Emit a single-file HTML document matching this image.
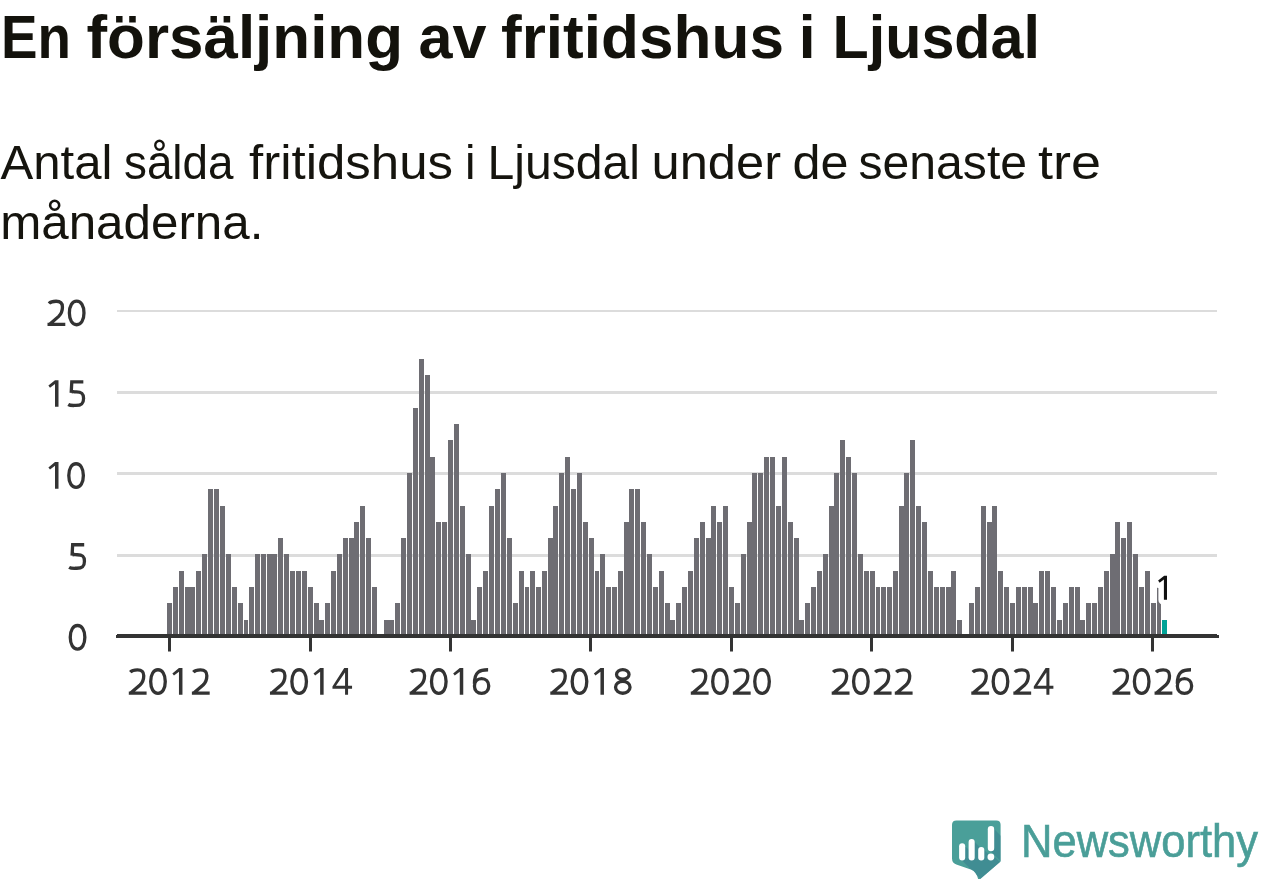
<!DOCTYPE html>
<html><head><meta charset="utf-8">
<style>
html,body{margin:0;padding:0;background:#fff;}
body{width:1262px;height:879px;overflow:hidden;position:relative;}
svg{position:absolute;left:0;top:0;will-change:transform;}
text{font-family:"Liberation Sans",sans-serif;}
.t{font-weight:bold;fill:#13120c;}
.s{fill:#15140e;}
.yl,.xl{fill:#333333;font-size:38px;}
.logo{fill:#4a9e98;font-size:45.5px;stroke:#4a9e98;stroke-width:0.6px;}
</style></head><body>
<svg width="1262" height="879" viewBox="0 0 1262 879">
<text x="1.00" y="57.8" class="t" font-size="60.5" textLength="70.00" lengthAdjust="spacingAndGlyphs">En</text>
<text x="86.50" y="57.8" class="t" font-size="60.5" textLength="316.50" lengthAdjust="spacingAndGlyphs">försäljning</text>
<text x="418.50" y="57.8" class="t" font-size="60.5" textLength="68.00" lengthAdjust="spacingAndGlyphs">av</text>
<text x="501.00" y="57.8" class="t" font-size="60.5" textLength="283.00" lengthAdjust="spacingAndGlyphs">fritidshus</text>
<text x="798.65" y="57.8" class="t" font-size="60.5">i</text>
<text x="832.50" y="57.8" class="t" font-size="60.5" textLength="207.50" lengthAdjust="spacingAndGlyphs">Ljusdal</text>
<text x="0.50" y="179.2" class="s" font-size="47.3" textLength="112.00" lengthAdjust="spacingAndGlyphs">Antal</text>
<text x="124.00" y="179.2" class="s" font-size="47.3" textLength="109.50" lengthAdjust="spacingAndGlyphs">sålda</text>
<text x="249.00" y="179.2" class="s" font-size="47.3" textLength="204.00" lengthAdjust="spacingAndGlyphs">fritidshus</text>
<text x="465.05" y="179.2" class="s" font-size="47.3">i</text>
<text x="487.50" y="179.2" class="s" font-size="47.3" textLength="152.50" lengthAdjust="spacingAndGlyphs">Ljusdal</text>
<text x="651.50" y="179.2" class="s" font-size="47.3" textLength="129.50" lengthAdjust="spacingAndGlyphs">under</text>
<text x="792.50" y="179.2" class="s" font-size="47.3" textLength="56.00" lengthAdjust="spacingAndGlyphs">de</text>
<text x="858.50" y="179.2" class="s" font-size="47.3" textLength="168.50" lengthAdjust="spacingAndGlyphs">senaste</text>
<text x="1038.00" y="179.2" class="s" font-size="47.3" textLength="63.00" lengthAdjust="spacingAndGlyphs">tre</text>
<text x="0.20" y="239.3" class="s" font-size="47.3" textLength="263.20" lengthAdjust="spacingAndGlyphs">månaderna.</text>
<rect x="117" y="310" width="1100" height="2" fill="#dcdcdc"/>
<rect x="117" y="391" width="1100" height="3" fill="#dcdcdc"/>
<rect x="117" y="472" width="1100" height="3" fill="#dcdcdc"/>
<rect x="117" y="554" width="1100" height="3" fill="#dcdcdc"/>
<path transform="translate(47.50 326.10)" d="M1.45 -22.6 C3.2 -24.5 5.6 -24.85 8.6 -24.85 C12.9 -24.85 14.95 -22.9 14.95 -19.0 C14.95 -15.6 14.6 -13.0 11.2 -9.7 L1.9 -1.6 M0 -1.65 L17.8 -1.65" fill="none" stroke="#333333" stroke-width="3.3"/>
<path transform="translate(68.53 326.10)" d="M8.15 -24.95 C12.53 -24.95 15.45 -20.23 15.45 -13.15 C15.45 -6.07 12.53 -1.35 8.15 -1.35 C3.77 -1.35 0.85 -6.07 0.85 -13.15 C0.85 -20.23 3.77 -24.95 8.15 -24.95 Z" fill="none" stroke="#333333" stroke-width="3.3"/>
<path transform="translate(46.90 406.80)" d="M8.1 -26.6 L11.6 -26.6 L11.6 0 L8.1 0 L8.1 -22.9 L3.1 -19.1 L1.5 -21.3 Z" fill="#333333"/>
<path transform="translate(67.93 406.80)" d="M2.3 -24.85 L15.4 -24.85 M3.95 -26.5 L3.25 -14.0 M3.15 -14.6 C4.8 -15.6 6.4 -14.85 8.4 -14.85 C13.6 -14.85 15.65 -13.4 15.65 -8.4 C15.65 -3.2 13.6 -1.35 8.0 -1.35 C5.0 -1.35 2.4 -1.0 0.3 -2.3" fill="none" stroke="#333333" stroke-width="3.3"/>
<path transform="translate(46.90 488.70)" d="M8.1 -26.6 L11.6 -26.6 L11.6 0 L8.1 0 L8.1 -22.9 L3.1 -19.1 L1.5 -21.3 Z" fill="#333333"/>
<path transform="translate(67.93 488.70)" d="M8.15 -24.95 C12.53 -24.95 15.45 -20.23 15.45 -13.15 C15.45 -6.07 12.53 -1.35 8.15 -1.35 C3.77 -1.35 0.85 -6.07 0.85 -13.15 C0.85 -20.23 3.77 -24.95 8.15 -24.95 Z" fill="none" stroke="#333333" stroke-width="3.3"/>
<path transform="translate(68.80 569.60)" d="M2.3 -24.85 L15.4 -24.85 M3.95 -26.5 L3.25 -14.0 M3.15 -14.6 C4.8 -15.6 6.4 -14.85 8.4 -14.85 C13.6 -14.85 15.65 -13.4 15.65 -8.4 C15.65 -3.2 13.6 -1.35 8.0 -1.35 C5.0 -1.35 2.4 -1.0 0.3 -2.3" fill="none" stroke="#333333" stroke-width="3.3"/>
<path transform="translate(69.40 650.45)" d="M8.15 -24.95 C12.53 -24.95 15.45 -20.23 15.45 -13.15 C15.45 -6.07 12.53 -1.35 8.15 -1.35 C3.77 -1.35 0.85 -6.07 0.85 -13.15 C0.85 -20.23 3.77 -24.95 8.15 -24.95 Z" fill="none" stroke="#333333" stroke-width="3.3"/>
<g shape-rendering="crispEdges">
<rect x="167" y="603" width="5" height="31" fill="#6e6d73"/>
<rect x="173" y="587" width="5" height="47" fill="#6e6d73"/>
<rect x="179" y="571" width="5" height="63" fill="#6e6d73"/>
<rect x="185" y="587" width="5" height="47" fill="#6e6d73"/>
<rect x="190" y="587" width="5" height="47" fill="#6e6d73"/>
<rect x="196" y="571" width="5" height="63" fill="#6e6d73"/>
<rect x="202" y="554" width="5" height="80" fill="#6e6d73"/>
<rect x="208" y="489" width="5" height="145" fill="#6e6d73"/>
<rect x="214" y="489" width="5" height="145" fill="#6e6d73"/>
<rect x="220" y="506" width="5" height="128" fill="#6e6d73"/>
<rect x="226" y="554" width="5" height="80" fill="#6e6d73"/>
<rect x="232" y="587" width="5" height="47" fill="#6e6d73"/>
<rect x="238" y="603" width="5" height="31" fill="#6e6d73"/>
<rect x="244" y="620" width="4" height="14" fill="#6e6d73"/>
<rect x="249" y="587" width="5" height="47" fill="#6e6d73"/>
<rect x="255" y="554" width="5" height="80" fill="#6e6d73"/>
<rect x="261" y="554" width="5" height="80" fill="#6e6d73"/>
<rect x="267" y="554" width="5" height="80" fill="#6e6d73"/>
<rect x="272" y="554" width="5" height="80" fill="#6e6d73"/>
<rect x="278" y="538" width="5" height="96" fill="#6e6d73"/>
<rect x="284" y="554" width="5" height="80" fill="#6e6d73"/>
<rect x="290" y="571" width="5" height="63" fill="#6e6d73"/>
<rect x="296" y="571" width="5" height="63" fill="#6e6d73"/>
<rect x="302" y="571" width="5" height="63" fill="#6e6d73"/>
<rect x="308" y="587" width="5" height="47" fill="#6e6d73"/>
<rect x="314" y="603" width="5" height="31" fill="#6e6d73"/>
<rect x="319" y="620" width="5" height="14" fill="#6e6d73"/>
<rect x="325" y="603" width="5" height="31" fill="#6e6d73"/>
<rect x="331" y="571" width="5" height="63" fill="#6e6d73"/>
<rect x="337" y="554" width="5" height="80" fill="#6e6d73"/>
<rect x="343" y="538" width="5" height="96" fill="#6e6d73"/>
<rect x="349" y="538" width="5" height="96" fill="#6e6d73"/>
<rect x="354" y="522" width="5" height="112" fill="#6e6d73"/>
<rect x="360" y="506" width="5" height="128" fill="#6e6d73"/>
<rect x="366" y="538" width="5" height="96" fill="#6e6d73"/>
<rect x="372" y="587" width="5" height="47" fill="#6e6d73"/>
<rect x="384" y="620" width="5" height="14" fill="#6e6d73"/>
<rect x="389" y="620" width="5" height="14" fill="#6e6d73"/>
<rect x="395" y="603" width="5" height="31" fill="#6e6d73"/>
<rect x="401" y="538" width="5" height="96" fill="#6e6d73"/>
<rect x="407" y="473" width="5" height="161" fill="#6e6d73"/>
<rect x="413" y="408" width="5" height="226" fill="#6e6d73"/>
<rect x="419" y="359" width="5" height="275" fill="#6e6d73"/>
<rect x="425" y="375" width="5" height="259" fill="#6e6d73"/>
<rect x="430" y="457" width="5" height="177" fill="#6e6d73"/>
<rect x="436" y="522" width="5" height="112" fill="#6e6d73"/>
<rect x="442" y="522" width="5" height="112" fill="#6e6d73"/>
<rect x="448" y="440" width="5" height="194" fill="#6e6d73"/>
<rect x="454" y="424" width="5" height="210" fill="#6e6d73"/>
<rect x="460" y="506" width="5" height="128" fill="#6e6d73"/>
<rect x="466" y="554" width="5" height="80" fill="#6e6d73"/>
<rect x="471" y="620" width="5" height="14" fill="#6e6d73"/>
<rect x="477" y="587" width="5" height="47" fill="#6e6d73"/>
<rect x="483" y="571" width="5" height="63" fill="#6e6d73"/>
<rect x="489" y="506" width="5" height="128" fill="#6e6d73"/>
<rect x="495" y="489" width="5" height="145" fill="#6e6d73"/>
<rect x="501" y="473" width="5" height="161" fill="#6e6d73"/>
<rect x="507" y="538" width="5" height="96" fill="#6e6d73"/>
<rect x="513" y="603" width="5" height="31" fill="#6e6d73"/>
<rect x="519" y="571" width="5" height="63" fill="#6e6d73"/>
<rect x="525" y="587" width="4" height="47" fill="#6e6d73"/>
<rect x="530" y="571" width="5" height="63" fill="#6e6d73"/>
<rect x="536" y="587" width="5" height="47" fill="#6e6d73"/>
<rect x="542" y="571" width="5" height="63" fill="#6e6d73"/>
<rect x="548" y="538" width="5" height="96" fill="#6e6d73"/>
<rect x="553" y="506" width="5" height="128" fill="#6e6d73"/>
<rect x="559" y="473" width="5" height="161" fill="#6e6d73"/>
<rect x="565" y="457" width="5" height="177" fill="#6e6d73"/>
<rect x="571" y="489" width="5" height="145" fill="#6e6d73"/>
<rect x="577" y="473" width="5" height="161" fill="#6e6d73"/>
<rect x="583" y="522" width="5" height="112" fill="#6e6d73"/>
<rect x="589" y="538" width="5" height="96" fill="#6e6d73"/>
<rect x="595" y="571" width="4" height="63" fill="#6e6d73"/>
<rect x="600" y="554" width="5" height="80" fill="#6e6d73"/>
<rect x="606" y="587" width="5" height="47" fill="#6e6d73"/>
<rect x="612" y="587" width="5" height="47" fill="#6e6d73"/>
<rect x="618" y="571" width="5" height="63" fill="#6e6d73"/>
<rect x="624" y="522" width="5" height="112" fill="#6e6d73"/>
<rect x="629" y="489" width="5" height="145" fill="#6e6d73"/>
<rect x="635" y="489" width="5" height="145" fill="#6e6d73"/>
<rect x="641" y="522" width="5" height="112" fill="#6e6d73"/>
<rect x="647" y="554" width="5" height="80" fill="#6e6d73"/>
<rect x="653" y="587" width="5" height="47" fill="#6e6d73"/>
<rect x="659" y="571" width="5" height="63" fill="#6e6d73"/>
<rect x="665" y="603" width="5" height="31" fill="#6e6d73"/>
<rect x="670" y="620" width="5" height="14" fill="#6e6d73"/>
<rect x="676" y="603" width="5" height="31" fill="#6e6d73"/>
<rect x="682" y="587" width="5" height="47" fill="#6e6d73"/>
<rect x="688" y="571" width="5" height="63" fill="#6e6d73"/>
<rect x="694" y="538" width="5" height="96" fill="#6e6d73"/>
<rect x="700" y="522" width="5" height="112" fill="#6e6d73"/>
<rect x="706" y="538" width="5" height="96" fill="#6e6d73"/>
<rect x="711" y="506" width="5" height="128" fill="#6e6d73"/>
<rect x="717" y="522" width="5" height="112" fill="#6e6d73"/>
<rect x="723" y="506" width="5" height="128" fill="#6e6d73"/>
<rect x="729" y="587" width="5" height="47" fill="#6e6d73"/>
<rect x="735" y="603" width="5" height="31" fill="#6e6d73"/>
<rect x="741" y="554" width="5" height="80" fill="#6e6d73"/>
<rect x="747" y="522" width="5" height="112" fill="#6e6d73"/>
<rect x="752" y="473" width="5" height="161" fill="#6e6d73"/>
<rect x="758" y="473" width="5" height="161" fill="#6e6d73"/>
<rect x="764" y="457" width="5" height="177" fill="#6e6d73"/>
<rect x="770" y="457" width="5" height="177" fill="#6e6d73"/>
<rect x="776" y="506" width="5" height="128" fill="#6e6d73"/>
<rect x="782" y="457" width="5" height="177" fill="#6e6d73"/>
<rect x="788" y="522" width="5" height="112" fill="#6e6d73"/>
<rect x="794" y="538" width="5" height="96" fill="#6e6d73"/>
<rect x="799" y="620" width="5" height="14" fill="#6e6d73"/>
<rect x="805" y="603" width="5" height="31" fill="#6e6d73"/>
<rect x="811" y="587" width="5" height="47" fill="#6e6d73"/>
<rect x="817" y="571" width="5" height="63" fill="#6e6d73"/>
<rect x="823" y="554" width="5" height="80" fill="#6e6d73"/>
<rect x="829" y="506" width="5" height="128" fill="#6e6d73"/>
<rect x="834" y="473" width="5" height="161" fill="#6e6d73"/>
<rect x="840" y="440" width="5" height="194" fill="#6e6d73"/>
<rect x="846" y="457" width="5" height="177" fill="#6e6d73"/>
<rect x="852" y="473" width="5" height="161" fill="#6e6d73"/>
<rect x="858" y="554" width="5" height="80" fill="#6e6d73"/>
<rect x="864" y="571" width="5" height="63" fill="#6e6d73"/>
<rect x="870" y="571" width="5" height="63" fill="#6e6d73"/>
<rect x="876" y="587" width="4" height="47" fill="#6e6d73"/>
<rect x="881" y="587" width="5" height="47" fill="#6e6d73"/>
<rect x="887" y="587" width="5" height="47" fill="#6e6d73"/>
<rect x="893" y="571" width="5" height="63" fill="#6e6d73"/>
<rect x="899" y="506" width="5" height="128" fill="#6e6d73"/>
<rect x="904" y="473" width="5" height="161" fill="#6e6d73"/>
<rect x="910" y="440" width="5" height="194" fill="#6e6d73"/>
<rect x="916" y="506" width="5" height="128" fill="#6e6d73"/>
<rect x="922" y="522" width="5" height="112" fill="#6e6d73"/>
<rect x="928" y="571" width="5" height="63" fill="#6e6d73"/>
<rect x="934" y="587" width="5" height="47" fill="#6e6d73"/>
<rect x="940" y="587" width="5" height="47" fill="#6e6d73"/>
<rect x="946" y="587" width="5" height="47" fill="#6e6d73"/>
<rect x="951" y="571" width="5" height="63" fill="#6e6d73"/>
<rect x="957" y="620" width="5" height="14" fill="#6e6d73"/>
<rect x="969" y="603" width="5" height="31" fill="#6e6d73"/>
<rect x="975" y="587" width="5" height="47" fill="#6e6d73"/>
<rect x="981" y="506" width="5" height="128" fill="#6e6d73"/>
<rect x="987" y="522" width="5" height="112" fill="#6e6d73"/>
<rect x="992" y="506" width="5" height="128" fill="#6e6d73"/>
<rect x="998" y="571" width="5" height="63" fill="#6e6d73"/>
<rect x="1004" y="587" width="5" height="47" fill="#6e6d73"/>
<rect x="1010" y="603" width="5" height="31" fill="#6e6d73"/>
<rect x="1016" y="587" width="5" height="47" fill="#6e6d73"/>
<rect x="1022" y="587" width="5" height="47" fill="#6e6d73"/>
<rect x="1028" y="587" width="5" height="47" fill="#6e6d73"/>
<rect x="1033" y="603" width="5" height="31" fill="#6e6d73"/>
<rect x="1039" y="571" width="5" height="63" fill="#6e6d73"/>
<rect x="1045" y="571" width="5" height="63" fill="#6e6d73"/>
<rect x="1051" y="587" width="5" height="47" fill="#6e6d73"/>
<rect x="1057" y="620" width="5" height="14" fill="#6e6d73"/>
<rect x="1063" y="603" width="5" height="31" fill="#6e6d73"/>
<rect x="1069" y="587" width="5" height="47" fill="#6e6d73"/>
<rect x="1075" y="587" width="5" height="47" fill="#6e6d73"/>
<rect x="1080" y="620" width="5" height="14" fill="#6e6d73"/>
<rect x="1086" y="603" width="5" height="31" fill="#6e6d73"/>
<rect x="1092" y="603" width="5" height="31" fill="#6e6d73"/>
<rect x="1098" y="587" width="5" height="47" fill="#6e6d73"/>
<rect x="1104" y="571" width="5" height="63" fill="#6e6d73"/>
<rect x="1110" y="554" width="5" height="80" fill="#6e6d73"/>
<rect x="1115" y="522" width="5" height="112" fill="#6e6d73"/>
<rect x="1121" y="538" width="5" height="96" fill="#6e6d73"/>
<rect x="1127" y="522" width="5" height="112" fill="#6e6d73"/>
<rect x="1133" y="554" width="5" height="80" fill="#6e6d73"/>
<rect x="1139" y="587" width="5" height="47" fill="#6e6d73"/>
<rect x="1145" y="571" width="5" height="63" fill="#6e6d73"/>
<rect x="1151" y="603" width="5" height="31" fill="#6e6d73"/>
<rect x="1157" y="587" width="4" height="47" fill="#6e6d73"/>
<rect x="1162" y="620" width="5" height="14" fill="#00a397"/>
</g>
<rect x="117" y="634" width="1100" height="1" fill="#333333" shape-rendering="crispEdges"/>
<rect x="116" y="635" width="1103" height="3" fill="#333333" shape-rendering="crispEdges"/>
<rect x="168" y="637" width="3" height="14.5" fill="#333333"/>
<rect x="309" y="637" width="3" height="14.5" fill="#333333"/>
<rect x="449" y="637" width="3" height="14.5" fill="#333333"/>
<rect x="589" y="637" width="3" height="14.5" fill="#333333"/>
<rect x="730" y="637" width="3" height="14.5" fill="#333333"/>
<rect x="870" y="637" width="3" height="14.5" fill="#333333"/>
<rect x="1011" y="637" width="3" height="14.5" fill="#333333"/>
<rect x="1151" y="637" width="3" height="14.5" fill="#333333"/>
<path transform="translate(128.80 694.70)" d="M1.45 -22.6 C3.2 -24.5 5.6 -24.85 8.6 -24.85 C12.9 -24.85 14.95 -22.9 14.95 -19.0 C14.95 -15.6 14.6 -13.0 11.2 -9.7 L1.9 -1.6 M0 -1.65 L17.8 -1.65" fill="none" stroke="#333333" stroke-width="3.3"/>
<path transform="translate(149.83 694.70)" d="M8.15 -24.95 C12.53 -24.95 15.45 -20.23 15.45 -13.15 C15.45 -6.07 12.53 -1.35 8.15 -1.35 C3.77 -1.35 0.85 -6.07 0.85 -13.15 C0.85 -20.23 3.77 -24.95 8.15 -24.95 Z" fill="none" stroke="#333333" stroke-width="3.3"/>
<path transform="translate(170.86 694.70)" d="M8.1 -26.6 L11.6 -26.6 L11.6 0 L8.1 0 L8.1 -22.9 L3.1 -19.1 L1.5 -21.3 Z" fill="#333333"/>
<path transform="translate(191.89 694.70)" d="M1.45 -22.6 C3.2 -24.5 5.6 -24.85 8.6 -24.85 C12.9 -24.85 14.95 -22.9 14.95 -19.0 C14.95 -15.6 14.6 -13.0 11.2 -9.7 L1.9 -1.6 M0 -1.65 L17.8 -1.65" fill="none" stroke="#333333" stroke-width="3.3"/>
<path transform="translate(269.97 694.70)" d="M1.45 -22.6 C3.2 -24.5 5.6 -24.85 8.6 -24.85 C12.9 -24.85 14.95 -22.9 14.95 -19.0 C14.95 -15.6 14.6 -13.0 11.2 -9.7 L1.9 -1.6 M0 -1.65 L17.8 -1.65" fill="none" stroke="#333333" stroke-width="3.3"/>
<path transform="translate(291.00 694.70)" d="M8.15 -24.95 C12.53 -24.95 15.45 -20.23 15.45 -13.15 C15.45 -6.07 12.53 -1.35 8.15 -1.35 C3.77 -1.35 0.85 -6.07 0.85 -13.15 C0.85 -20.23 3.77 -24.95 8.15 -24.95 Z" fill="none" stroke="#333333" stroke-width="3.3"/>
<path transform="translate(312.03 694.70)" d="M8.1 -26.6 L11.6 -26.6 L11.6 0 L8.1 0 L8.1 -22.9 L3.1 -19.1 L1.5 -21.3 Z" fill="#333333"/>
<path transform="translate(333.06 694.70)" d="M12.0 -26.7 L15.0 -26.7 L15.0 0 L12.0 0 Z M-0.6 -8.9 L19.0 -8.9 L19.0 -5.9 L-0.6 -5.9 Z M11.2 -26.7 L15.0 -26.7 L2.9 -8.9 L-0.6 -8.9 L-0.6 -8.1 Z" fill="#333333"/>
<path transform="translate(409.60 694.70)" d="M1.45 -22.6 C3.2 -24.5 5.6 -24.85 8.6 -24.85 C12.9 -24.85 14.95 -22.9 14.95 -19.0 C14.95 -15.6 14.6 -13.0 11.2 -9.7 L1.9 -1.6 M0 -1.65 L17.8 -1.65" fill="none" stroke="#333333" stroke-width="3.3"/>
<path transform="translate(430.63 694.70)" d="M8.15 -24.95 C12.53 -24.95 15.45 -20.23 15.45 -13.15 C15.45 -6.07 12.53 -1.35 8.15 -1.35 C3.77 -1.35 0.85 -6.07 0.85 -13.15 C0.85 -20.23 3.77 -24.95 8.15 -24.95 Z" fill="none" stroke="#333333" stroke-width="3.3"/>
<path transform="translate(451.66 694.70)" d="M8.1 -26.6 L11.6 -26.6 L11.6 0 L8.1 0 L8.1 -22.9 L3.1 -19.1 L1.5 -21.3 Z" fill="#333333"/>
<path transform="translate(472.69 694.70)" d="M15.4 -24.95 C7.0 -24.95 1.75 -23.0 1.75 -11.0 M8.90 -16.00 C13.05 -16.00 16.05 -12.93 16.05 -8.70 C16.05 -4.47 13.05 -1.40 8.90 -1.40 C4.75 -1.40 1.75 -4.47 1.75 -8.70 C1.75 -12.93 4.75 -16.00 8.90 -16.00 Z" fill="none" stroke="#333333" stroke-width="3.3"/>
<path transform="translate(550.30 694.70)" d="M1.45 -22.6 C3.2 -24.5 5.6 -24.85 8.6 -24.85 C12.9 -24.85 14.95 -22.9 14.95 -19.0 C14.95 -15.6 14.6 -13.0 11.2 -9.7 L1.9 -1.6 M0 -1.65 L17.8 -1.65" fill="none" stroke="#333333" stroke-width="3.3"/>
<path transform="translate(571.33 694.70)" d="M8.15 -24.95 C12.53 -24.95 15.45 -20.23 15.45 -13.15 C15.45 -6.07 12.53 -1.35 8.15 -1.35 C3.77 -1.35 0.85 -6.07 0.85 -13.15 C0.85 -20.23 3.77 -24.95 8.15 -24.95 Z" fill="none" stroke="#333333" stroke-width="3.3"/>
<path transform="translate(592.36 694.70)" d="M8.1 -26.6 L11.6 -26.6 L11.6 0 L8.1 0 L8.1 -22.9 L3.1 -19.1 L1.5 -21.3 Z" fill="#333333"/>
<path transform="translate(613.39 694.70)" d="M9.40 -25.15 C12.84 -25.15 15.65 -22.97 15.65 -20.30 C15.65 -17.63 12.84 -15.45 9.40 -15.45 C5.96 -15.45 3.15 -17.63 3.15 -20.30 C3.15 -22.97 5.96 -25.15 9.40 -25.15 Z M9.40 -13.35 C13.39 -13.35 16.65 -10.67 16.65 -7.40 C16.65 -4.13 13.39 -1.45 9.40 -1.45 C5.41 -1.45 2.15 -4.13 2.15 -7.40 C2.15 -10.67 5.41 -13.35 9.40 -13.35 Z" fill="none" stroke="#333333" stroke-width="3.3"/>
<path transform="translate(690.80 694.70)" d="M1.45 -22.6 C3.2 -24.5 5.6 -24.85 8.6 -24.85 C12.9 -24.85 14.95 -22.9 14.95 -19.0 C14.95 -15.6 14.6 -13.0 11.2 -9.7 L1.9 -1.6 M0 -1.65 L17.8 -1.65" fill="none" stroke="#333333" stroke-width="3.3"/>
<path transform="translate(711.83 694.70)" d="M8.15 -24.95 C12.53 -24.95 15.45 -20.23 15.45 -13.15 C15.45 -6.07 12.53 -1.35 8.15 -1.35 C3.77 -1.35 0.85 -6.07 0.85 -13.15 C0.85 -20.23 3.77 -24.95 8.15 -24.95 Z" fill="none" stroke="#333333" stroke-width="3.3"/>
<path transform="translate(732.86 694.70)" d="M1.45 -22.6 C3.2 -24.5 5.6 -24.85 8.6 -24.85 C12.9 -24.85 14.95 -22.9 14.95 -19.0 C14.95 -15.6 14.6 -13.0 11.2 -9.7 L1.9 -1.6 M0 -1.65 L17.8 -1.65" fill="none" stroke="#333333" stroke-width="3.3"/>
<path transform="translate(753.89 694.70)" d="M8.15 -24.95 C12.53 -24.95 15.45 -20.23 15.45 -13.15 C15.45 -6.07 12.53 -1.35 8.15 -1.35 C3.77 -1.35 0.85 -6.07 0.85 -13.15 C0.85 -20.23 3.77 -24.95 8.15 -24.95 Z" fill="none" stroke="#333333" stroke-width="3.3"/>
<path transform="translate(831.70 694.70)" d="M1.45 -22.6 C3.2 -24.5 5.6 -24.85 8.6 -24.85 C12.9 -24.85 14.95 -22.9 14.95 -19.0 C14.95 -15.6 14.6 -13.0 11.2 -9.7 L1.9 -1.6 M0 -1.65 L17.8 -1.65" fill="none" stroke="#333333" stroke-width="3.3"/>
<path transform="translate(852.73 694.70)" d="M8.15 -24.95 C12.53 -24.95 15.45 -20.23 15.45 -13.15 C15.45 -6.07 12.53 -1.35 8.15 -1.35 C3.77 -1.35 0.85 -6.07 0.85 -13.15 C0.85 -20.23 3.77 -24.95 8.15 -24.95 Z" fill="none" stroke="#333333" stroke-width="3.3"/>
<path transform="translate(873.76 694.70)" d="M1.45 -22.6 C3.2 -24.5 5.6 -24.85 8.6 -24.85 C12.9 -24.85 14.95 -22.9 14.95 -19.0 C14.95 -15.6 14.6 -13.0 11.2 -9.7 L1.9 -1.6 M0 -1.65 L17.8 -1.65" fill="none" stroke="#333333" stroke-width="3.3"/>
<path transform="translate(894.79 694.70)" d="M1.45 -22.6 C3.2 -24.5 5.6 -24.85 8.6 -24.85 C12.9 -24.85 14.95 -22.9 14.95 -19.0 C14.95 -15.6 14.6 -13.0 11.2 -9.7 L1.9 -1.6 M0 -1.65 L17.8 -1.65" fill="none" stroke="#333333" stroke-width="3.3"/>
<path transform="translate(971.30 694.70)" d="M1.45 -22.6 C3.2 -24.5 5.6 -24.85 8.6 -24.85 C12.9 -24.85 14.95 -22.9 14.95 -19.0 C14.95 -15.6 14.6 -13.0 11.2 -9.7 L1.9 -1.6 M0 -1.65 L17.8 -1.65" fill="none" stroke="#333333" stroke-width="3.3"/>
<path transform="translate(992.33 694.70)" d="M8.15 -24.95 C12.53 -24.95 15.45 -20.23 15.45 -13.15 C15.45 -6.07 12.53 -1.35 8.15 -1.35 C3.77 -1.35 0.85 -6.07 0.85 -13.15 C0.85 -20.23 3.77 -24.95 8.15 -24.95 Z" fill="none" stroke="#333333" stroke-width="3.3"/>
<path transform="translate(1013.36 694.70)" d="M1.45 -22.6 C3.2 -24.5 5.6 -24.85 8.6 -24.85 C12.9 -24.85 14.95 -22.9 14.95 -19.0 C14.95 -15.6 14.6 -13.0 11.2 -9.7 L1.9 -1.6 M0 -1.65 L17.8 -1.65" fill="none" stroke="#333333" stroke-width="3.3"/>
<path transform="translate(1034.39 694.70)" d="M12.0 -26.7 L15.0 -26.7 L15.0 0 L12.0 0 Z M-0.6 -8.9 L19.0 -8.9 L19.0 -5.9 L-0.6 -5.9 Z M11.2 -26.7 L15.0 -26.7 L2.9 -8.9 L-0.6 -8.9 L-0.6 -8.1 Z" fill="#333333"/>
<path transform="translate(1112.50 694.70)" d="M1.45 -22.6 C3.2 -24.5 5.6 -24.85 8.6 -24.85 C12.9 -24.85 14.95 -22.9 14.95 -19.0 C14.95 -15.6 14.6 -13.0 11.2 -9.7 L1.9 -1.6 M0 -1.65 L17.8 -1.65" fill="none" stroke="#333333" stroke-width="3.3"/>
<path transform="translate(1133.53 694.70)" d="M8.15 -24.95 C12.53 -24.95 15.45 -20.23 15.45 -13.15 C15.45 -6.07 12.53 -1.35 8.15 -1.35 C3.77 -1.35 0.85 -6.07 0.85 -13.15 C0.85 -20.23 3.77 -24.95 8.15 -24.95 Z" fill="none" stroke="#333333" stroke-width="3.3"/>
<path transform="translate(1154.56 694.70)" d="M1.45 -22.6 C3.2 -24.5 5.6 -24.85 8.6 -24.85 C12.9 -24.85 14.95 -22.9 14.95 -19.0 C14.95 -15.6 14.6 -13.0 11.2 -9.7 L1.9 -1.6 M0 -1.65 L17.8 -1.65" fill="none" stroke="#333333" stroke-width="3.3"/>
<path transform="translate(1175.59 694.70)" d="M15.4 -24.95 C7.0 -24.95 1.75 -23.0 1.75 -11.0 M8.90 -16.00 C13.05 -16.00 16.05 -12.93 16.05 -8.70 C16.05 -4.47 13.05 -1.40 8.90 -1.40 C4.75 -1.40 1.75 -4.47 1.75 -8.70 C1.75 -12.93 4.75 -16.00 8.90 -16.00 Z" fill="none" stroke="#333333" stroke-width="3.3"/>
<path d="M1164.2 575.8 L1167 575.8 L1167 599.7 L1163.9 599.7 L1163.9 579.6 L1159.6 582.7 L1158.1 580.5 Z" fill="#fff" stroke="#fff" stroke-width="11" stroke-linejoin="round"/>
<path d="M1164.2 575.8 L1167 575.8 L1167 599.7 L1163.9 599.7 L1163.9 579.6 L1159.6 582.7 L1158.1 580.5 Z" fill="#111111"/>
<defs><clipPath id="bub"><path d="M956.5 820.4 H996.3 Q1000.6 820.4 1000.6 824.7 V861.5 L978.5 880.5 Q976.5 871.8 971.5 869.8 L957 864.8 Q952 863.2 952 858.5 V824.7 Q952 820.4 956.5 820.4 Z"/></clipPath>
</defs>
<g clip-path="url(#bub)">
<rect x="940" y="810" width="70" height="75" fill="#4a9f99"/>
<g opacity="0.55">
<path d="M963.7 844.7 L1003.7 884.7 L1000.6 898.9 L960.6 858.9 Z" fill="#3a7f8e"/>
<path d="M973.2 840.6 L1013.2 880.6 L1010.1 898.9 L970.1 858.9 Z" fill="#3a7f8e"/>
<path d="M982.8 848.6 L1022.8 888.6 L1019.7 898.9 L979.7 858.9 Z" fill="#3a7f8e"/>
<path d="M992.7 827.6 L1032.7 867.6 L1029.3 889.8 L989.3 849.8 Z" fill="#3a7f8e"/>
<path d="M992.8 855.1 L1032.8 895.1 L1029.0 898.9 L989.0 858.9 Z" fill="#3a7f8e"/>
</g>
</g>
<rect x="959.1" y="843.2" width="6.1" height="17.2" rx="3" fill="#fff"/>
<rect x="968.6" y="839.1" width="6.1" height="21.3" rx="3" fill="#fff"/>
<rect x="978.2" y="847.1" width="6.1" height="13.3" rx="3" fill="#fff"/>
<rect x="987.8" y="826.1" width="6.4" height="25.2" rx="3.2" fill="#fff"/>
<circle cx="990.9" cy="857" r="3.4" fill="#fff"/>
<text x="1021" y="857.4" class="logo" textLength="237" lengthAdjust="spacingAndGlyphs">Newsworthy</text>
</svg>
</body></html>
